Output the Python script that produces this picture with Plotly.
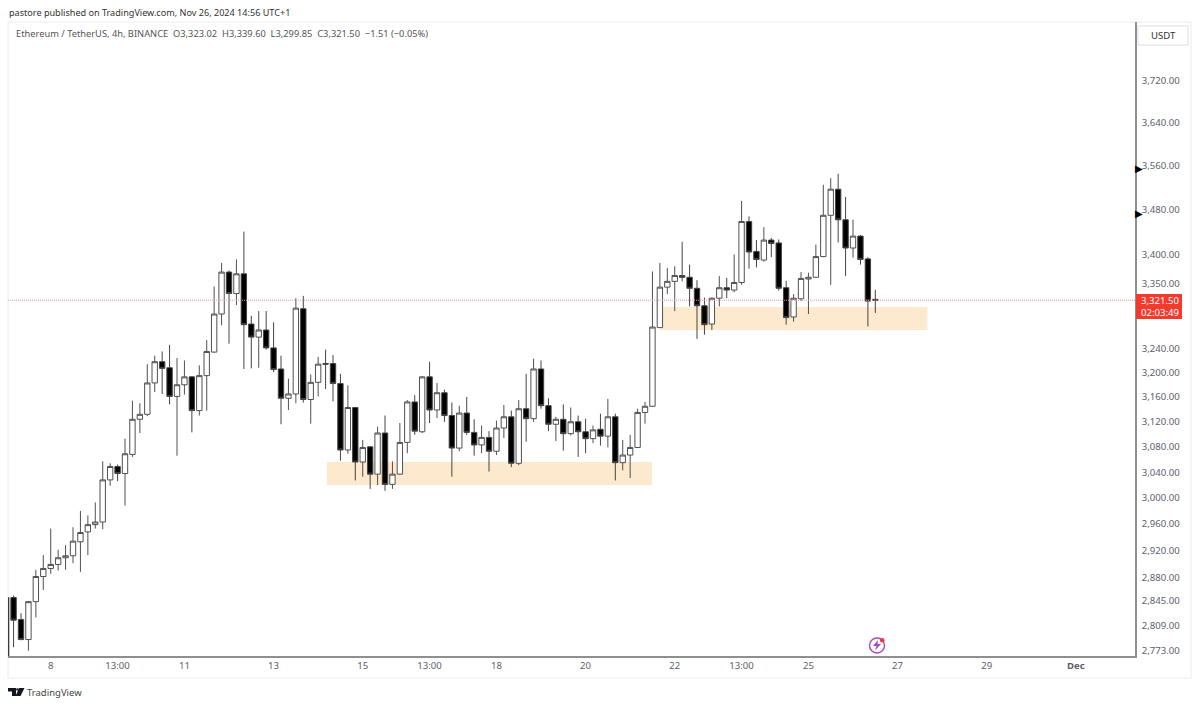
import math

import pandas as pd
import plotly.graph_objects as go

# 4h candles, Nov 7 01:00 to Nov 26 13:00 (UTC+1), the first one is cut by the left edge
times = pd.date_range("2024-11-07 01:00", periods=118, freq="4h")

opens = [2850, 2850, 2818, 2789, 2844, 2881, 2893, 2899, 2909, 2912, 2933, 2948, 2959, 2963, 3028, 3049, 3038, 3068, 3124, 3132, 3183,
         3218, 3208, 3161, 3180, 3193, 3138, 3195, 3234, 3298, 3370, 3333, 3367, 3281, 3259, 3271, 3241, 3206, 3158, 3165, 3307,
         3156, 3184, 3215, 3215, 3182, 3075, 3143, 3056, 3080, 3037, 3102, 3021, 3037, 3087, 3152, 3104, 3193, 3139, 3167, 3130,
         3078, 3134, 3103, 3083, 3095, 3073, 3110, 3128, 3054, 3141, 3125, 3206, 3146, 3116, 3124, 3101, 3120, 3104, 3093, 3108,
         3097, 3128, 3055, 3067, 3079, 3135, 3145, 3275, 3344, 3354, 3364, 3361, 3342, 3312, 3281, 3325, 3343, 3339, 3352, 3459,
         3406, 3391, 3426, 3421, 3343, 3293, 3324, 3358, 3361, 3397, 3470, 3517, 3462, 3412, 3433, 3393, 3323.02]
highs = [2852, 2853, 2827, 2845, 2891, 2913, 2953, 2921, 2928, 2955, 2980, 2973, 2993, 3057, 3054, 3052, 3093, 3154, 3150, 3214, 3228,
         3235, 3246, 3224, 3220, 3194, 3212, 3254, 3345, 3386, 3373, 3392, 3441, 3295, 3303, 3303, 3284, 3228, 3190, 3325, 3329,
         3197, 3226, 3238, 3229, 3198, 3179, 3144, 3091, 3081, 3112, 3130, 3057, 3118, 3155, 3163, 3194, 3218, 3183, 3172, 3151,
         3146, 3160, 3124, 3114, 3105, 3122, 3147, 3138, 3155, 3198, 3223, 3220, 3158, 3128, 3148, 3143, 3130, 3125, 3114, 3133,
         3157, 3133, 3091, 3099, 3141, 3152, 3371, 3386, 3377, 3380, 3423, 3383, 3356, 3326, 3326, 3363, 3360, 3401, 3496, 3468,
         3426, 3449, 3430, 3427, 3355, 3332, 3370, 3369, 3418, 3525, 3537, 3545, 3503, 3462, 3435, 3396, 3339.60]
lows = [2755, 2778, 2788, 2773, 2821, 2861, 2885, 2890, 2891, 2901, 2888, 2913, 2953, 2952, 3019, 3026, 2988, 3064, 3102, 3129, 3168,
        3165, 3148, 3066, 3164, 3103, 3130, 3138, 3233, 3279, 3248, 3313, 3206, 3207, 3208, 3238, 3201, 3116, 3139, 3150, 3151,
        3117, 3161, 3173, 3153, 3058, 3069, 3027, 3033, 3014, 3020, 3011, 3014, 3036, 3070, 3099, 3102, 3118, 3126, 3120, 3033,
        3073, 3099, 3066, 3070, 3041, 3067, 3094, 3048, 3051, 3088, 3120, 3141, 3105, 3089, 3074, 3098, 3064, 3070, 3086, 3082,
        3079, 3027, 3043, 3031, 3078, 3117, 3144, 3275, 3332, 3303, 3354, 3311, 3256, 3263, 3271, 3311, 3325, 3335, 3348, 3376,
        3378, 3388, 3396, 3338, 3280, 3285, 3320, 3298, 3360, 3396, 3348, 3422, 3363, 3395, 3383, 3277, 3299.85]
closes = [2765, 2817, 2789, 2844, 2881, 2893, 2899, 2909, 2912, 2934, 2947, 2959, 2963, 3028, 3049, 3038, 3069, 3124, 3132, 3183, 3218,
          3207, 3161, 3180, 3193, 3138, 3195, 3235, 3298, 3370, 3333, 3367, 3280, 3259, 3271, 3241, 3205, 3158, 3165, 3308, 3156,
          3184, 3214, 3214, 3182, 3075, 3143, 3056, 3079, 3037, 3102, 3021, 3037, 3087, 3152, 3105, 3193, 3139, 3167, 3130, 3078,
          3134, 3103, 3083, 3095, 3073, 3110, 3128, 3054, 3141, 3125, 3206, 3146, 3116, 3124, 3101, 3120, 3104, 3093, 3107, 3097,
          3128, 3055, 3067, 3079, 3135, 3145, 3276, 3344, 3354, 3364, 3361, 3342, 3312, 3280, 3325, 3343, 3339, 3352, 3459, 3405,
          3392, 3426, 3420, 3342, 3292, 3325, 3359, 3361, 3397, 3470, 3517, 3462, 3412, 3433, 3392, 3320, 3321.50]

price_ticks = [2773, 2809, 2845, 2880, 2920, 2960, 3000, 3040, 3080, 3120, 3160, 3200, 3240, 3350, 3400, 3480, 3560, 3640, 3720]
price_labels = ["{:,.2f}".format(p) for p in price_ticks]

date_ticks = ["2024-11-08 01:00", "2024-11-09 13:00", "2024-11-11 01:00", "2024-11-13 01:00", "2024-11-15 01:00",
              "2024-11-16 13:00", "2024-11-18 01:00", "2024-11-20 01:00", "2024-11-22 01:00", "2024-11-23 13:00",
              "2024-11-25 01:00", "2024-11-27 01:00", "2024-11-29 01:00", "2024-12-01 01:00"]
date_labels = ["8", "13:00", "11", "13", "15", "13:00", "18", "20", "22", "13:00", "25", "27", "29", "<b>Dec</b>"]

# orange zones: start, end, low, high
zone_starts = ["2024-11-14 05:40", "2024-11-21 17:00"]
zone_ends = ["2024-11-21 12:50", "2024-11-27 17:00"]
zone_lows = [3020, 3271]
zone_highs = [3056, 3310]

last_price = 3321.50
alert_prices = [3555, 3473]

x_range = ["2024-11-07 02:00", "2024-12-02 08:50"]
y_range = [3.44177, 3.58356]  # log10

L, R, T, B = 8, 1135, 22, 656
FONT = "Noto Sans"
GREY = "#5d606b"


def px(x):
    return (x - L) / (R - L)


def py(y):
    return 1 - (y - T) / (B - T)


def note(x, y, text, size=9.6, color=GREY, anchor="left"):
    return dict(xref="paper", yref="paper", x=px(x), y=py(y), text=text, showarrow=False,
                xanchor=anchor, yanchor="middle", font=dict(family=FONT, size=size, color=color))


def box(x0, y0, x1, y1, **kw):
    return dict(type="rect", xref="paper", yref="paper", x0=px(x0), x1=px(x1), y0=py(y0), y1=py(y1), **kw)


def poly(points, fill):
    d = "M" + " L".join("%.5f,%.5f" % (px(a), py(b)) for a, b in points) + " Z"
    return dict(type="path", xref="paper", yref="paper", path=d, fillcolor=fill, line=dict(width=0))


fig = go.Figure()
fig.add_trace(go.Scatter(
    x=x_range, y=[last_price, last_price], mode="lines", showlegend=False, hoverinfo="skip",
    line=dict(color="#f6999c", width=1, dash="1px,1px"),
))
fig.add_trace(go.Candlestick(
    x=times, open=opens, high=highs, low=lows, close=closes,
    increasing=dict(line=dict(color="#505050", width=1), fillcolor="#ffffff"),
    decreasing=dict(line=dict(color="#444444", width=1), fillcolor="#000000"),
    showlegend=False,
))

shapes = []
for s, e, lo, hi in zip(zone_starts, zone_ends, zone_lows, zone_highs):
    shapes.append(dict(type="rect", xref="x", yref="y", x0=s, x1=e, y0=lo, y1=hi, layer="below",
                       fillcolor="#fde9ce", line=dict(width=0)))
# outer frame
shapes.append(box(8, 22, 1191, 678, line=dict(color="#ececec", width=1), layer="below"))
# usdt button
shapes.append(box(1138, 26, 1188, 45, line=dict(color="#dddddd", width=1)))
# price label
shapes.append(box(1136, 294, 1182, 319, fillcolor="#f4392d", line=dict(width=0)))
# bolt badge
shapes.append(dict(type="circle", xref="paper", yref="paper", x0=px(869.5), x1=px(884.5), y0=py(653), y1=py(638),
                   line=dict(color="#ab47bc", width=1.4)))
shapes.append(poly([(878, 640), (873, 646), (876.5, 646), (875, 650.5), (881, 644), (877.5, 644)], "#ab47bc"))
shapes.append(dict(type="circle", xref="paper", yref="paper", x0=px(880), x1=px(884.5), y0=py(642.5), y1=py(638),
                   fillcolor="#f23645", line=dict(width=0)))
# tv logo
shapes.append(poly([(8, 688), (16, 688), (16, 696), (12, 696), (12, 691.5), (8, 691.5)], "#131722"))
shapes.append(poly([(19, 688), (24.5, 688), (20.5, 696), (15.5, 696)], "#131722"))
shapes.append(dict(type="circle", xref="paper", yref="paper", x0=px(16.2), x1=px(18.6), y0=py(690.6), y1=py(688.2),
                   fillcolor="#131722", line=dict(width=0)))

annotations = [
    note(6.5, 12, "pastore published on TradingView.com, Nov 26, 2024 14:56 UTC+1", size=9.1, color="#333333"),
    note(13.5, 33.5, "Ethereum / TetherUS, 4h, BINANCE&nbsp; O3,323.02&nbsp; H3,339.60&nbsp; L3,299.85&nbsp; C3,321.50&nbsp; −1.51 (−0.05%)",
         size=9.3, color="#555555"),
    note(1163, 35.5, "USDT", color="#333333", anchor="center"),
    note(1160, 300.5, "3,321.50", color="#ffffff", anchor="center"),
    note(1160, 312, "02:03:49", color="#ffffff", anchor="center"),
    note(25, 692, "TradingView", size=9.5, color="#444444"),
]
# small black arrows on the price scale
for p in alert_prices:
    annotations.append(dict(xref="paper", yref="y", x=1, y=math.log10(p), text="▶", showarrow=False, xanchor="left",
                            yanchor="middle", xshift=-1, borderpad=0, font=dict(family="DejaVu Sans", size=10, color="#000000")))

fig.update_layout(
    width=1200, height=706,
    margin=dict(l=L, r=1200 - R, t=T, b=706 - B, pad=0),
    paper_bgcolor="#ffffff", plot_bgcolor="#ffffff",
    font=dict(family=FONT, size=9.6, color=GREY),
    boxgap=0.15, boxgroupgap=0.15,
    shapes=shapes, annotations=annotations,
    xaxis=dict(type="date", range=x_range, rangeslider=dict(visible=False), showgrid=False, zeroline=False,
               tickvals=date_ticks, ticktext=date_labels, tickangle=0, ticks="", showline=True, linecolor="#8f8f8f",
               linewidth=1.5, tickfont=dict(family=FONT, size=9.6, color=GREY)),
    yaxis=dict(type="log", side="right", range=y_range, showgrid=False, zeroline=False, ticklabelstandoff=3,
               tickvals=price_ticks, ticktext=price_labels, ticks="", showline=True, linecolor="#8f8f8f",
               linewidth=1.5, tickfont=dict(family=FONT, size=9.6, color=GREY)),
)

fig.write_html("out.html", config={"displayModeBar": False}, post_script="document.body.style.margin='0';")
